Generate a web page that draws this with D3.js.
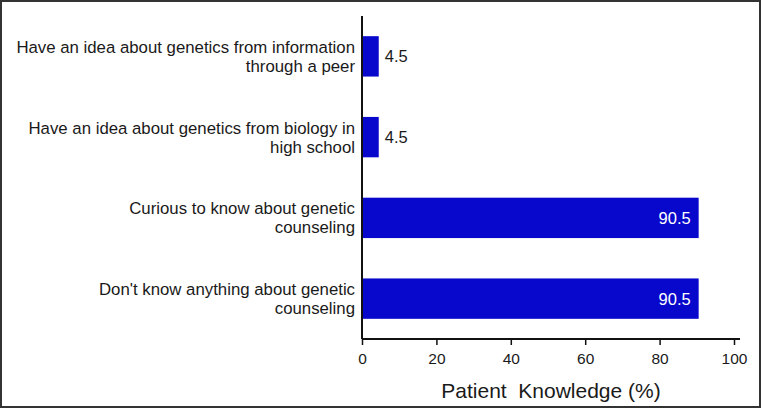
<!DOCTYPE html>
<html lang="en">
<head>
<meta charset="UTF-8">
<title>Patient Knowledge</title>
<script src="https://cdnjs.cloudflare.com/ajax/libs/d3/7.8.5/d3.min.js"></script>
<style>
    body { margin: 0; background: #fff; }
    svg { display: block; font-family: "Liberation Sans", Arial, sans-serif; }
</style>
</head>
<body>
<svg width="762" height="409"></svg>
<script>
    const categories = [
        ["Have an idea about genetics from information", "through a peer"],
        ["Have an idea about genetics from biology in", "high school"],
        ["Curious to know about genetic", "counseling"],
        ["Don't know anything about genetic", "counseling"]
    ];
    const values = [4.5, 4.5, 90.5, 90.5];
    const xTicks = [0, 20, 40, 60, 80, 100];
    const xTitle = "Patient\u00a0 Knowledge (%)";

    const svg = d3.select("svg");
    const plot = { left: 362, right: 734, top: 16, bottom: 339 };

    // frame round the figure
    svg.append("rect")
        .attr("x", 1).attr("y", 1)
        .attr("width", 759).attr("height", 406)
        .attr("fill", "none")
        .attr("stroke", "#333")
        .attr("stroke-width", 2);

    const x = d3.scaleLinear().domain([0, 100]).range([plot.left, plot.right]);
    const y = d3.scaleBand()
        .domain(d3.range(categories.length))
        .range([plot.top, plot.bottom])
        .paddingInner(0.5)
        .paddingOuter(0.25);

    svg.selectAll("rect.bar")
        .data(values)
        .enter()
        .append("rect")
        .attr("class", "bar")
        .attr("x", x(0))
        .attr("y", (d, i) => y(i))
        .attr("width", d => x(d) - x(0))
        .attr("height", y.bandwidth())
        .attr("fill", "#0808cc");

    // value labels: outside for short bars, inside for long ones
    svg.selectAll("text.val")
        .data(values)
        .enter()
        .append("text")
        .attr("class", "val")
        .attr("x", d => d > 20 ? x(d) - 8 : x(d) + 6)
        .attr("y", (d, i) => y(i) + y.bandwidth() / 2)
        .attr("dy", "0.36em")
        .attr("text-anchor", d => d > 20 ? "end" : "start")
        .attr("fill", d => d > 20 ? "#fff" : "#1a1a1a")
        .attr("font-size", 16.5)
        .text(d => d);

    // category labels, two lines each
    const lab = svg.selectAll("text.cat")
        .data(categories)
        .enter()
        .append("text")
        .attr("class", "cat")
        .attr("text-anchor", "end")
        .attr("fill", "#1a1a1a")
        .attr("font-size", 16.8);
    lab.selectAll("tspan")
        .data((d, i) => d.map((t, j) => ({ t, j, i })))
        .enter()
        .append("tspan")
        .attr("x", 355)
        .attr("y", d => y(d.i) + y.bandwidth() / 2 + (d.j - 0.5) * 19)
        .attr("dy", "0.36em")
        .text(d => d.t);

    // axes
    svg.append("line")
        .attr("x1", plot.left).attr("x2", plot.left)
        .attr("y1", plot.top).attr("y2", plot.bottom)
        .attr("stroke", "#111").attr("stroke-width", 2);

    const xAxis = svg.append("g")
        .attr("transform", `translate(0,${plot.bottom})`)
        .call(d3.axisBottom(x).tickValues(xTicks).tickSize(6).tickSizeOuter(0));
    xAxis.select(".domain")
        .attr("d", `M${plot.left},0H${plot.right + 6}`)
        .attr("stroke", "#111").attr("stroke-width", 2);
    xAxis.selectAll(".tick line").attr("stroke", "#111").attr("stroke-width", 1.5);
    xAxis.selectAll(".tick text")
        .attr("font-family", "Liberation Sans, Arial, sans-serif")
        .attr("font-size", 15.5)
        .attr("fill", "#1a1a1a")
        .attr("y", 14);

    svg.append("text")
        .attr("x", 551)
        .attr("y", 398)
        .attr("text-anchor", "middle")
        .attr("fill", "#1a1a1a")
        .attr("font-size", 21)
        .text(xTitle);
</script>
</body>
</html>
